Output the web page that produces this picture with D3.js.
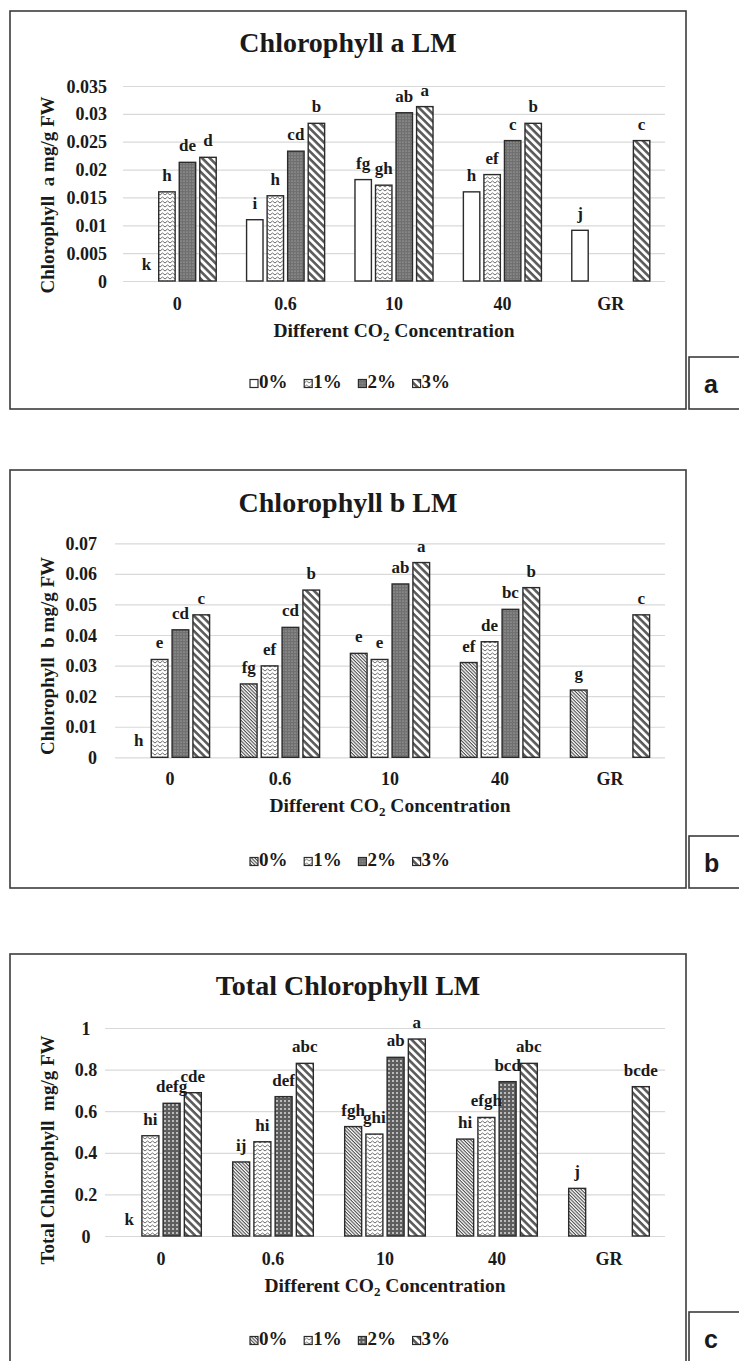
<!DOCTYPE html>
<html>
<head>
<meta charset="utf-8">
<script src="https://cdn.jsdelivr.net/npm/d3@7"></script>
<style>
  body { margin: 0; background: #fff; }
  svg { display: block; background: #fff; }
  text { font-family: "Liberation Serif", "Times New Roman", serif; font-weight: bold; fill: #1a1a1a; }
</style>
</head>
<body>
<svg id="chart" width="739" height="1361"></svg>
<script>
const categories = ["0", "0.6", "10", "40", "GR"];
const seriesNames = ["0%", "1%", "2%", "3%"];

// one row per CO2 level, columns are 0%, 1%, 2%, 3%
const chlAValues = [
  [0, 0.016, 0.0213, 0.0222],
  [0.011, 0.0153, 0.0233, 0.0283],
  [0.0182, 0.0172, 0.0302, 0.0313],
  [0.016, 0.0191, 0.0252, 0.0283],
  [0.0091, null, null, 0.0252]
];
const chlALetters = [
  ["k", "h", "de", "d"],
  ["i", "h", "cd", "b"],
  ["fg", "gh", "ab", "a"],
  ["h", "ef", "c", "b"],
  ["j", "", "", "c"]
];
const chlATicks = [0, 0.005, 0.01, 0.015, 0.02, 0.025, 0.03, 0.035];

const chlBValues = [
  [0, 0.032, 0.0417, 0.0466],
  [0.024, 0.0299, 0.0425, 0.0547],
  [0.034, 0.032, 0.0567, 0.0637],
  [0.031, 0.0378, 0.0484, 0.0555],
  [0.022, null, null, 0.0466]
];
const chlBLetters = [
  ["h", "e", "cd", "c"],
  ["fg", "ef", "cd", "b"],
  ["e", "e", "ab", "a"],
  ["ef", "de", "bc", "b"],
  ["g", "", "", "c"]
];
const chlBTicks = [0, 0.01, 0.02, 0.03, 0.04, 0.05, 0.06, 0.07];

const totalValues = [
  [0, 0.482, 0.638, 0.689],
  [0.356, 0.453, 0.67, 0.83],
  [0.526, 0.49, 0.859, 0.947],
  [0.466, 0.57, 0.742, 0.83],
  [0.229, null, null, 0.718]
];
const totalLetters = [
  ["k", "hi", "defg", "cde"],
  ["ij", "hi", "def", "abc"],
  ["fgh", "ghi", "ab", "a"],
  ["hi", "efgh", "bcd", "abc"],
  ["j", "", "", "bcde"]
];
const totalTicks = [0, 0.2, 0.4, 0.6, 0.8, 1];

const svg = d3.select("#chart");
const defs = svg.append("defs");
const fmt = d => String(+d.toFixed(4));

// fill patterns, one set per panel
function makePatterns(id, plainFirst, dotBig) {
  // 0% : white or fine "\" hatching
  if (!plainFirst) {
    const p = defs.append("pattern").attr("id", id + "-0")
      .attr("patternUnits", "userSpaceOnUse").attr("width", 4).attr("height", 2.4)
      .attr("patternTransform", "rotate(45)");
    p.append("rect").attr("width", 4).attr("height", 2.4).attr("fill", "#fff");
    p.append("rect").attr("width", 4).attr("height", 1.1).attr("fill", "#4d4d4d");
  }
  // 1% : zigzag lines
  const z = defs.append("pattern").attr("id", id + "-1")
    .attr("patternUnits", "userSpaceOnUse").attr("width", 5).attr("height", 4);
  z.append("rect").attr("width", 5).attr("height", 4).attr("fill", "#fff");
  z.append("path").attr("d", "M0,3 L2.5,1 L5,3").attr("fill", "none")
    .attr("stroke", "#6e6e6e").attr("stroke-width", 1);
  // 2% : dark stipple
  const s = defs.append("pattern").attr("id", id + "-2")
    .attr("patternUnits", "userSpaceOnUse").attr("width", dotBig ? 4 : 3).attr("height", dotBig ? 4 : 3);
  s.append("rect").attr("width", 4).attr("height", 4).attr("fill", dotBig ? "#5e5e5e" : "#707070");
  s.append("circle").attr("cx", 1).attr("cy", 1).attr("r", dotBig ? 0.9 : 0.6).attr("fill", dotBig ? "#e6e6e6" : "#c4c4c4");
  // 3% : wide "\" stripes
  const w = defs.append("pattern").attr("id", id + "-3")
    .attr("patternUnits", "userSpaceOnUse").attr("width", 8).attr("height", 5.4)
    .attr("patternTransform", "rotate(45)");
  w.append("rect").attr("width", 8).attr("height", 5.4).attr("fill", "#fff");
  w.append("rect").attr("width", 8).attr("height", 2.6).attr("fill", "#5a5a5a");
}

function fillFor(cfg, j) {
  if (j === 0 && cfg.plainFirst) return "#fff";
  return `url(#${cfg.id}-${j})`;
}

function drawPanel(cfg) {
  makePatterns(cfg.id, cfg.plainFirst, cfg.dotBig);
  const g = svg.append("g");

  // frame and tag box
  g.append("rect").attr("x", 10).attr("y", cfg.boxY).attr("width", 676).attr("height", cfg.boxH)
    .attr("fill", "none").attr("stroke", "#3c3c3c").attr("stroke-width", 1.6);
  g.append("rect").attr("x", 689).attr("y", cfg.tagY).attr("width", 70).attr("height", 52)
    .attr("fill", "#fff").attr("stroke", "#3c3c3c").attr("stroke-width", 1.6);
  g.append("text").attr("x", 704).attr("y", cfg.tagY + 36)
    .style("font-family", "'Liberation Sans', Arial, sans-serif").attr("font-size", 25)
    .text(cfg.tag);

  const x0 = d3.scaleBand().domain(categories).range([cfg.left, 665])
    .paddingInner(0.28).paddingOuter(0.14);
  const x1 = d3.scaleBand().domain(seriesNames).range([0, x0.bandwidth()]).paddingInner(0.2);
  const y = d3.scaleLinear().domain([0, cfg.ticks[cfg.ticks.length - 1]]).range([cfg.bottom, cfg.top]);

  // gridlines
  const grid = g.append("g").attr("transform", `translate(${cfg.left},0)`)
    .call(d3.axisLeft(y).tickValues(cfg.ticks).tickSize(-(665 - cfg.left)).tickFormat(""));
  grid.select(".domain").remove();
  grid.selectAll("line").attr("stroke", "#d9d9d9").attr("stroke-width", 1.2);

  // y tick labels
  const ya = g.append("g").attr("transform", `translate(${cfg.tickX},0)`)
    .call(d3.axisLeft(y).tickValues(cfg.ticks).tickSize(0).tickPadding(0).tickFormat(fmt));
  ya.select(".domain").remove();
  ya.selectAll("text").attr("font-size", 18).attr("dy", "0.34em").attr("text-anchor", cfg.tickAnchor);

  // x tick labels
  const xa = g.append("g").attr("transform", `translate(0,${cfg.xLabelY})`)
    .call(d3.axisBottom(x0).tickSize(0).tickPadding(0));
  xa.select(".domain").remove();
  xa.selectAll("text").attr("font-size", 18).attr("dy", 0).attr("y", 0);

  // bars
  const rows = cfg.values.flatMap((r, i) => r.map((v, j) => ({
    cat: categories[i], ser: seriesNames[j], j: j, v: v, lab: cfg.letters[i][j]
  }))).filter(d => d.v !== null);

  g.append("g").selectAll("rect").data(rows.filter(d => d.v > 0)).join("rect")
    .attr("x", d => x0(d.cat) + x1(d.ser))
    .attr("y", d => y(d.v))
    .attr("width", x1.bandwidth())
    .attr("height", d => cfg.bottom - y(d.v))
    .attr("fill", d => fillFor(cfg, d.j))
    .attr("stroke", "#2b2b2b").attr("stroke-width", 1.4);

  g.append("g").selectAll("text").data(rows).join("text")
    .attr("x", d => x0(d.cat) + x1(d.ser) + x1.bandwidth() / 2)
    .attr("y", d => y(d.v) - 11)
    .attr("text-anchor", "middle").attr("font-size", 17)
    .text(d => d.lab);

  // titles
  g.append("text").attr("x", 348).attr("y", cfg.titleY).attr("text-anchor", "middle")
    .attr("font-size", 28).text(cfg.title);

  g.append("text").attr("transform", `translate(54,${cfg.yTitleY}) rotate(-90)`)
    .attr("text-anchor", "middle").attr("font-size", 19).style("white-space", "pre")
    .text(cfg.yTitle);

  const xt = g.append("text").attr("x", (cfg.left + 665) / 2).attr("y", cfg.xTitleY)
    .attr("text-anchor", "middle").attr("font-size", 19.5);
  xt.append("tspan").text("Different CO");
  xt.append("tspan").attr("font-size", 13).attr("dy", 4).text("2");
  xt.append("tspan").attr("dy", -4).text(" Concentration");

  // legend
  const lg = g.append("g").selectAll("g").data(seriesNames).join("g")
    .attr("transform", (d, j) => `translate(${250 + j * 54.2},${cfg.legendY})`);
  lg.append("rect").attr("x", 0).attr("y", -8.5).attr("width", 8).attr("height", 8)
    .attr("fill", (d, j) => fillFor(cfg, j)).attr("stroke", "#2b2b2b").attr("stroke-width", 1.2);
  lg.append("text").attr("x", 9).attr("y", 0).attr("font-size", 19).text(d => d);
}

drawPanel({
  id: "pa", tag: "a", title: "Chlorophyll a LM", yTitle: "Chlorophyll  a mg/g FW",
  values: chlAValues, letters: chlALetters, ticks: chlATicks,
  plainFirst: true, dotBig: false,
  boxY: 11, boxH: 398, tagY: 357,
  left: 123, top: 86, bottom: 281, tickX: 107, tickAnchor: "end",
  titleY: 52, yTitleY: 195, xLabelY: 310, xTitleY: 337, legendY: 388
});

drawPanel({
  id: "pb", tag: "b", title: "Chlorophyll b LM", yTitle: "Chlorophyll  b mg/g FW",
  values: chlBValues, letters: chlBLetters, ticks: chlBTicks,
  plainFirst: false, dotBig: false,
  boxY: 470, boxH: 418, tagY: 836,
  left: 115, top: 543.3, bottom: 757.3, tickX: 97, tickAnchor: "end",
  titleY: 512, yTitleY: 656, xLabelY: 785, xTitleY: 812, legendY: 866
});

drawPanel({
  id: "pc", tag: "c", title: "Total Chlorophyll LM", yTitle: "Total Chlorophyll  mg/g FW",
  values: totalValues, letters: totalLetters, ticks: totalTicks,
  plainFirst: false, dotBig: true,
  boxY: 954, boxH: 420, tagY: 1312,
  left: 105, top: 1028, bottom: 1236, tickX: 86, tickAnchor: "middle",
  titleY: 995, yTitleY: 1150, xLabelY: 1265, xTitleY: 1292, legendY: 1345
});
</script>
</body>
</html>
